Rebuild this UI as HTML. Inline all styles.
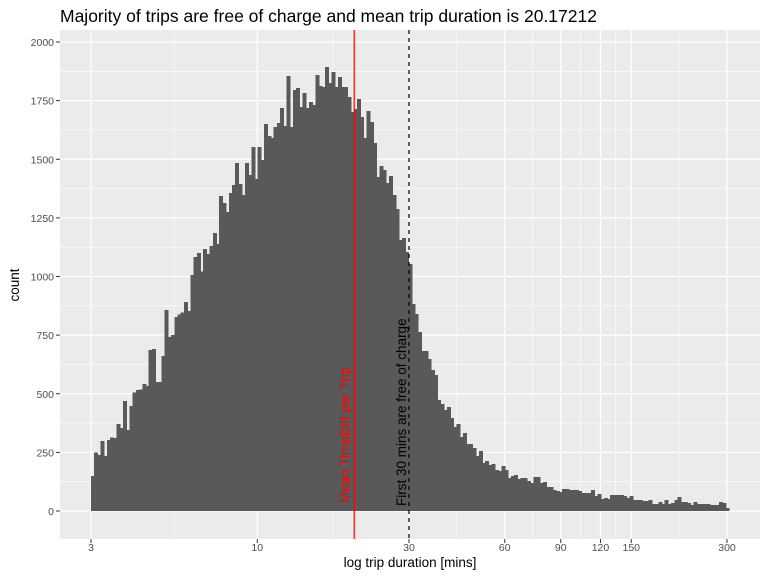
<!DOCTYPE html>
<html><head><meta charset="utf-8"><style>
body{margin:0;background:#fff;font-family:"Liberation Sans",sans-serif}
</style></head><body>
<svg id="chart" width="768" height="576" xmlns="http://www.w3.org/2000/svg" font-family="Liberation Sans, sans-serif">
<text x="60" y="22" font-size="17.5" fill="#000">Majority of trips are free of charge and mean trip duration is 20.17212</text>
<rect x="60" y="30" width="700" height="509" fill="#ebebeb"/>
<g id="grid"></g><g id="bars" shape-rendering="crispEdges"></g><g id="annot"></g><g id="axes"></g>
<text x="410" y="567" font-size="13.5" text-anchor="middle">log trip duration [mins]</text>
<text transform="translate(19,285) rotate(-90)" font-size="13.5" text-anchor="middle">count</text>
</svg>
<script>
const counts = [149,250,239,298,234,303,314,311,370,353,469,345,448,506,516,519,542,533,687,690,550,550,661,857,743,750,827,839,847,891,853,1006,1083,1100,1021,1117,1096,
1130,1185,1139,1343,1313,1275,1356,1390,1484,1394,1348,1484,1433,1552,1416,1552,1497,1650,1599,1591,1638,1655,1719,1642,1855,1638,1795,1804,1723,1783,1719,1744,1731,1860,1812,1808,1893,1825,1872,1808,1851,
1808,1808,1765,1701,1714,1757,1680,1591,1706,1659,1569,1424,1471,1454,1399,1429,1348,1288,1156,1164,1104,1053,883,840,763,682,682,648,601,580,473,456,431,443,397,358,371,316,
333,286,286,269,235,256,205,213,196,200,175,171,192,175,141,149,154,136,141,141,128,119,145,145,119,124,102,102,90,85,81,94,94,90,90,90,85,77,77,77,90,64,72,51,55,51,68,68,68,68,64,55,64,47,47,47,43,43,47,30,30,38,30,47,30,34,47,60,38,38,34,26,38,30,30,30,30,26,26,26,38,34,13];
const xMin = 3, xMax = 304;
const meanValue = 20.17212, freeLimit = 30;
const xTicks = [3,10,30,60,90,120,150,300];
const xMinor = [5.48,17.3,42.4,73.5,104,134,212];
const yTicks = [0,250,500,750,1000,1250,1500,1750,2000];
const NS="http://www.w3.org/2000/svg";
const X = v => 91 + (Math.log10(v) - Math.log10(3)) * 318;
const Y = c => 511 - c * 0.2345;
function mk(t, parent, attrs){const e=document.createElementNS(NS,t);for(const k in attrs)e.setAttribute(k,attrs[k]);document.getElementById(parent).appendChild(e);return e;}
for (let i=0;i<yTicks.length-1;i++){const m=(yTicks[i]+yTicks[i+1])/2;
  const e=mk('line','grid',{x1:60,x2:760,y1:Y(m),y2:Y(m),stroke:'#fff','stroke-width':0.6});
  
  }
xMinor.forEach(v=>{const e=mk('line','grid',{x1:X(v),x2:X(v),y1:30,y2:539,stroke:'#fff','stroke-width':0.6});
  
  });
yTicks.forEach(v=>{const e=mk('line','grid',{x1:60,x2:760,y1:Y(v),y2:Y(v),stroke:'#fff','stroke-width':1.2});
  
  
  const t=mk('text','axes',{x:54,y:Y(v)+4,'font-size':10.5,fill:'#4d4d4d','text-anchor':'end'});t.textContent=v;
  
  
  const k=mk('line','axes',{x1:56,x2:60,y1:Y(v),y2:Y(v),stroke:'#333','stroke-width':1});
  
  });
xTicks.forEach(v=>{const e=mk('line','grid',{x1:X(v),x2:X(v),y1:30,y2:539,stroke:'#fff','stroke-width':1.2});
  
  
  const t=mk('text','axes',{x:X(v),y:551,'font-size':10.5,fill:'#4d4d4d','text-anchor':'middle'});t.textContent=v;
  
  
  const k=mk('line','axes',{x1:X(v),x2:X(v),y1:539,y2:543,stroke:'#333','stroke-width':1});
  
  });
const lmin=Math.log10(xMin), lmax=Math.log10(xMax), bw=(lmax-lmin)/counts.length;
counts.forEach((c,i)=>{const x0=X(Math.pow(10,lmin+i*bw)), x1=X(Math.pow(10,lmin+(i+1)*bw));
  const r=mk('rect','bars',{x:x0,y:Y(c),width:x1-x0+0.8,height:Y(0)-Y(c),fill:'#595959'});
  
  });
const ml=mk('line','annot',{x1:X(meanValue),x2:X(meanValue),y1:30,y2:539,stroke:'#ff0000','stroke-width':1.2});


const fl=mk('line','annot',{x1:X(freeLimit),x2:X(freeLimit),y1:30,y2:539,stroke:'#000','stroke-width':1.2,'stroke-dasharray':'4,4'});


const mt=mk('text','annot',{transform:`translate(${X(meanValue)-5},503) rotate(-90)`,'font-size':13.5,fill:'#ff0000'});
mt.textContent='Mean TimeDiff per Trip';


const ft=mk('text','annot',{transform:`translate(${X(freeLimit)-3},506) rotate(-90)`,'font-size':13.5,fill:'#000'});
ft.textContent='First 30 mins are free of charge';


</script>
</body></html>
